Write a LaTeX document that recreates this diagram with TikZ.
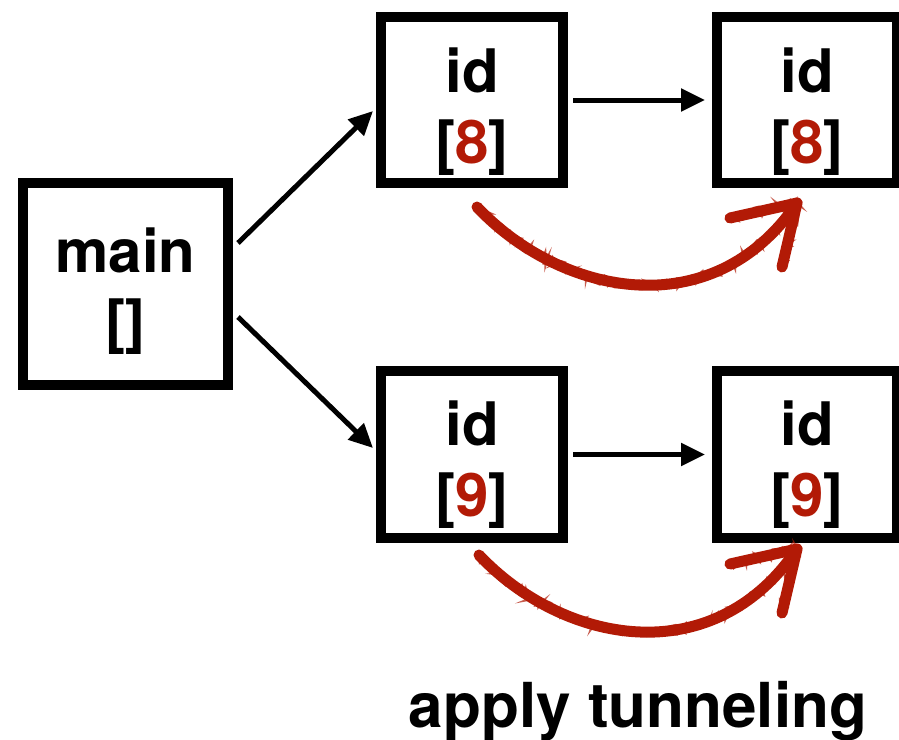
\documentclass[tikz,border=0pt]{standalone}
\usepackage{fontspec}
\setmainfont{TeX Gyre Heros}
\usetikzlibrary{arrows.meta,decorations.pathmorphing,calc}
\definecolor{tred}{RGB}{178,26,6}
\tikzset{
  boxnode/.style={draw=black, line width=10pt, fill=white, inner sep=0pt, outer sep=0pt, minimum width=182pt, minimum height=166pt},
  txt/.style={font=\bfseries\fontsize{60}{71}\selectfont, inner sep=0pt, anchor=base},
  arr/.style={line width=5pt, -{Triangle[length=24pt, width=22pt]}},
  chalk/.style={draw=tred, line width=11pt, line cap=round, line join=round},
  chalkrough/.style={draw=tred, line width=2.5pt, line cap=round, opacity=0.7,
    decorate, decoration={random steps, segment length=2.5pt, amplitude=5pt}},
}
\newcommand\chalkarr[2]{%
  \draw[chalk] (#1) .. controls +(83,88) and +(-85,125) .. (#2);
  \draw[chalk] ($(#2)+(-67,15)$) -- (#2) -- ($(#2)+(-15,64)$);
  \draw[chalkrough] (#1) .. controls +(83,88) and +(-85,125) .. (#2);
  \draw[chalkrough] ($(#2)+(-67,15)$) -- (#2) -- ($(#2)+(-15,64)$);
}
\begin{document}
\begin{tikzpicture}[x=1pt, y=-1pt]
\pgfmathsetseed{7}
\fill[white] (0,0) rectangle (899,739);
\useasboundingbox (0,0) rectangle (899,739);

% boxes
\node[boxnode, minimum width=205pt, minimum height=202pt] (main) at (125.5,284) {};
\node[boxnode] (idA) at (472,100) {};
\node[boxnode, minimum width=180pt] (idB) at (807,100) {};
\node[boxnode, minimum height=167pt] (idC) at (472,454.5) {};
\node[boxnode, minimum width=180pt, minimum height=167pt] (idD) at (807,454.5) {};

% texts
\node[txt] (mainT) at (125.5,272) {main};
\node[txt] (mainL) at (125.5,342) {[]};
\node[txt] (idAT) at (472,92) {id};
\node[txt] (idAL) at (472,163) {[\textcolor{tred}{8}]};
\node[txt] (idBT) at (807,92) {id};
\node[txt] (idBL) at (807,163) {[\textcolor{tred}{8}]};
\node[txt] (idCT) at (472,445) {id};
\node[txt] (idCL) at (472,516) {[\textcolor{tred}{9}]};
\node[txt] (idDT) at (807,445) {id};
\node[txt] (idDL) at (807,516) {[\textcolor{tred}{9}]};

\node[txt, font=\bfseries\fontsize{62}{72}\selectfont] (label) at (638,727) {apply tunneling};

% black arrows
\draw[arr] ([shift={(10,-41)}]main.east) -- ([shift={(-8,11)}]idA.west);
\draw[arr] ([shift={(10,33)}]main.east) -- ([shift={(-8,-6.5)}]idC.west);
\draw[arr] ([xshift=10pt]idA.east) -- ([xshift=-12pt]idB.west);
\draw[arr] ([xshift=10pt]idC.east) -- ([xshift=-12pt]idD.west);

% red hand-drawn arrows
\coordinate (r1s) at ([shift={(5,24)}]idA.south);
\coordinate (r1e) at ([shift={(-10,20)}]idB.south);
\coordinate (r2s) at ([shift={(7,17)}]idC.south);
\coordinate (r2e) at ([shift={(-10,11)}]idD.south);
\chalkarr{r1s}{r1e}
\chalkarr{r2s}{r2e}
\end{tikzpicture}
\end{document}
